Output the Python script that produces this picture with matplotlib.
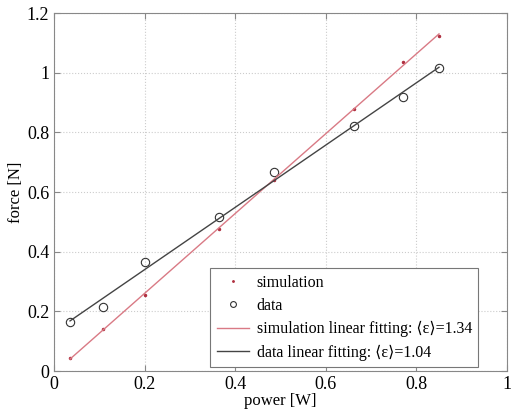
import numpy as np
import matplotlib.pyplot as plt

plt.rcParams['font.family'] = ['Liberation Serif', 'DejaVu Serif']

# Measured points
power = [0.035, 0.107, 0.200, 0.365, 0.485, 0.663, 0.770, 0.850]
force_sim = [0.045, 0.140, 0.255, 0.475, 0.640, 0.880, 1.035, 1.125]
force_data = [0.163, 0.213, 0.365, 0.515, 0.668, 0.820, 0.920, 1.015]

xticks = [0, 0.2, 0.4, 0.6, 0.8, 1]
xtick_labels = ['0', '0.2', '0.4', '0.6', '0.8', '1']
yticks = [0, 0.2, 0.4, 0.6, 0.8, 1, 1.2]
ytick_labels = ['0', '0.2', '0.4', '0.6', '0.8', '1', '1.2']

# Linear fits
p = np.array(power)
k_sim, b_sim = np.polyfit(p, force_sim, 1)
k_dat, b_dat = np.polyfit(p, force_data, 1)
xf = np.array([p.min(), p.max()])

fig = plt.figure(figsize=(5.11, 4.12), dpi=100)
ax = fig.add_axes([0.106, 0.0995, 0.886, 0.8685])

ax.plot(power, force_sim, '.', color='#b03040', markersize=3, label='simulation')
ax.plot(power, force_data, 'o', mfc='none', mec='#333333', markersize=6,
        markeredgewidth=0.8, label='data')
ax.plot(xf, k_sim * xf + b_sim, color='#d97a85', lw=1.0,
        label='simulation linear fitting: \u27e8\u03b5\u27e9=1.34')
ax.plot(xf, k_dat * xf + b_dat, color='#444444', lw=1.0,
        label='data linear fitting: \u27e8\u03b5\u27e9=1.04')

ax.set_xlim(0, 1)
ax.set_ylim(0, 1.2)
ax.set_xticks(xticks)
ax.set_xticklabels(xtick_labels)
ax.set_yticks(yticks)
ax.set_yticklabels(ytick_labels)
ax.tick_params(direction='in', labelsize=13, length=4, color='#888888',
               top=True, right=True)
ax.grid(True, linestyle=':', color='#cccccc', lw=0.8)
for s in ax.spines.values():
    s.set_color('#888888')
ax.set_xlabel('power [W]', fontsize=12, labelpad=0)
ax.set_ylabel('force [N]', fontsize=12, labelpad=2)

leg = ax.legend(loc='lower right', bbox_to_anchor=(0.937, 0.011), fontsize=11.5,
                frameon=True, fancybox=False, framealpha=1, edgecolor='#777777',
                handlelength=2.0, handletextpad=0.5, borderpad=0.4,
                labelspacing=0.45, borderaxespad=0, markerscale=0.7)
leg.get_frame().set_linewidth(0.8)

fig.savefig('out.png', dpi=100)
